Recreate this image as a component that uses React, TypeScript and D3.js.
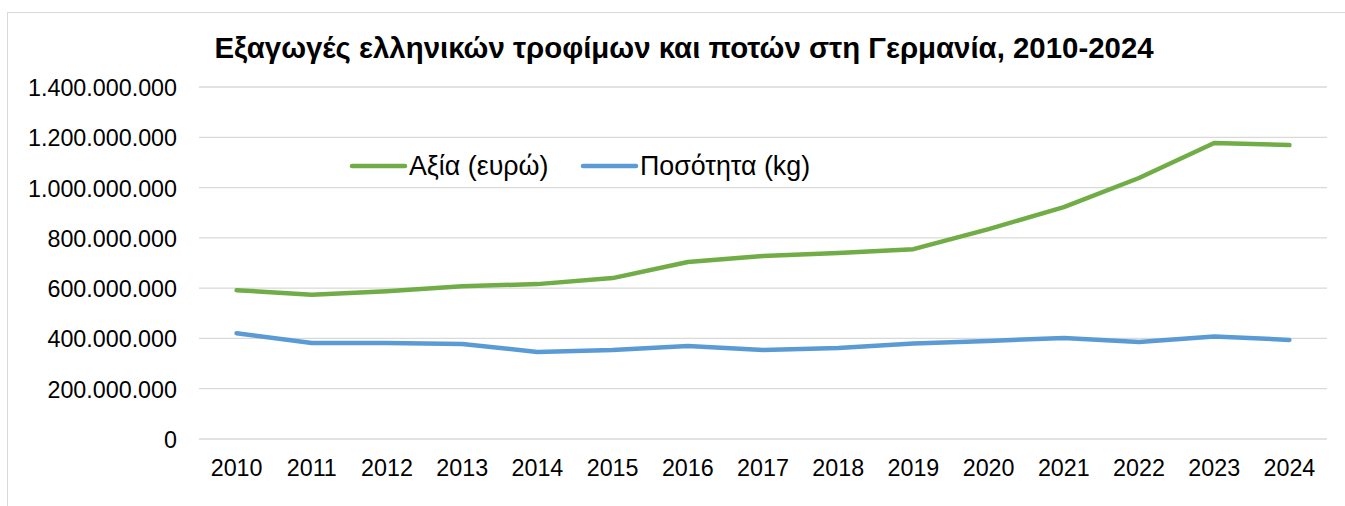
import React from 'react';
import * as d3 from 'd3';

const years = ['2010', '2011', '2012', '2013', '2014', '2015', '2016', '2017', '2018', '2019', '2020', '2021', '2022', '2023', '2024'];
const valueEur = [592e6, 574e6, 588e6, 608e6, 616e6, 640e6, 704e6, 728e6, 740e6, 755e6, 835e6, 922e6, 1038e6, 1177e6, 1169e6];
const quantityKg = [421e6, 382e6, 382e6, 378e6, 346e6, 354e6, 370e6, 354e6, 362e6, 380e6, 390e6, 402e6, 386e6, 408e6, 394e6];
const yTicks = [0, 200e6, 400e6, 600e6, 800e6, 1000e6, 1200e6, 1400e6];

const W = 1345;
const H = 506;
const margin = { top: 87, right: 18, bottom: 67, left: 199 };
const font = 'Arial, "Liberation Sans", sans-serif';

const fmt = (v: number) => d3.format(',')(v).replace(/,/g, '.');

const App: React.FC = () => {
  const x = d3
    .scaleBand<string>()
    .domain(years)
    .range([margin.left, W - margin.right]);
  const y = d3
    .scaleLinear()
    .domain([0, 1400e6])
    .range([H - margin.bottom, margin.top]);

  const line = d3
    .line<number>()
    .x((_, i) => (x(years[i]) as number) + x.bandwidth() / 2)
    .y((d) => y(d));

  const series = [
    { name: 'Αξία (ευρώ)', values: valueEur, color: '#70ad47', lx: 352 },
    { name: 'Ποσότητα (kg)', values: quantityKg, color: '#5b9bd5', lx: 583 },
  ];

  return (
    <svg width={W} height={H} style={{ position: 'absolute', left: 0, top: 0, background: '#fff' }}>
      <rect x={7.5} y={12.5} width={W + 10} height={H + 10} fill="#fff" stroke="#d9d9d9" />
      <text x={684} y={58} textAnchor="middle" fontFamily={font} fontSize={29.4} fontWeight="bold" fill="#000">
        Εξαγωγές ελληνικών τροφίμων και ποτών στη Γερμανία, 2010-2024
      </text>

      {/* grid + y labels */}
      {yTicks.map((t) => (
        <g key={t}>
          <line x1={margin.left} x2={W - margin.right} y1={y(t)} y2={y(t)} stroke="#d9d9d9" strokeWidth={1.3} />
          <text x={177} y={y(t) + 9} textAnchor="end" fontFamily={font} fontSize={23.3} fill="#000">
            {fmt(t)}
          </text>
        </g>
      ))}

      {/* x labels */}
      {years.map((yr) => (
        <text
          key={yr}
          x={(x(yr) as number) + x.bandwidth() / 2}
          y={476}
          textAnchor="middle"
          fontFamily={font}
          fontSize={23.3}
          fill="#000"
        >
          {yr}
        </text>
      ))}

      {series.map((s) => (
        <path
          key={s.name}
          d={line(s.values) || ''}
          fill="none"
          stroke={s.color}
          strokeWidth={4.5}
          strokeLinecap="round"
          strokeLinejoin="round"
        />
      ))}

      {/* legend */}
      {series.map((s) => (
        <g key={'lg' + s.name}>
          <line x1={s.lx} x2={s.lx + 53} y1={166} y2={166} stroke={s.color} strokeWidth={4.5} strokeLinecap="round" />
          <text x={s.lx + 57} y={175} fontFamily={font} fontSize={26.8} fill="#000">
            {s.name}
          </text>
        </g>
      ))}
    </svg>
  );
};

export default App;
